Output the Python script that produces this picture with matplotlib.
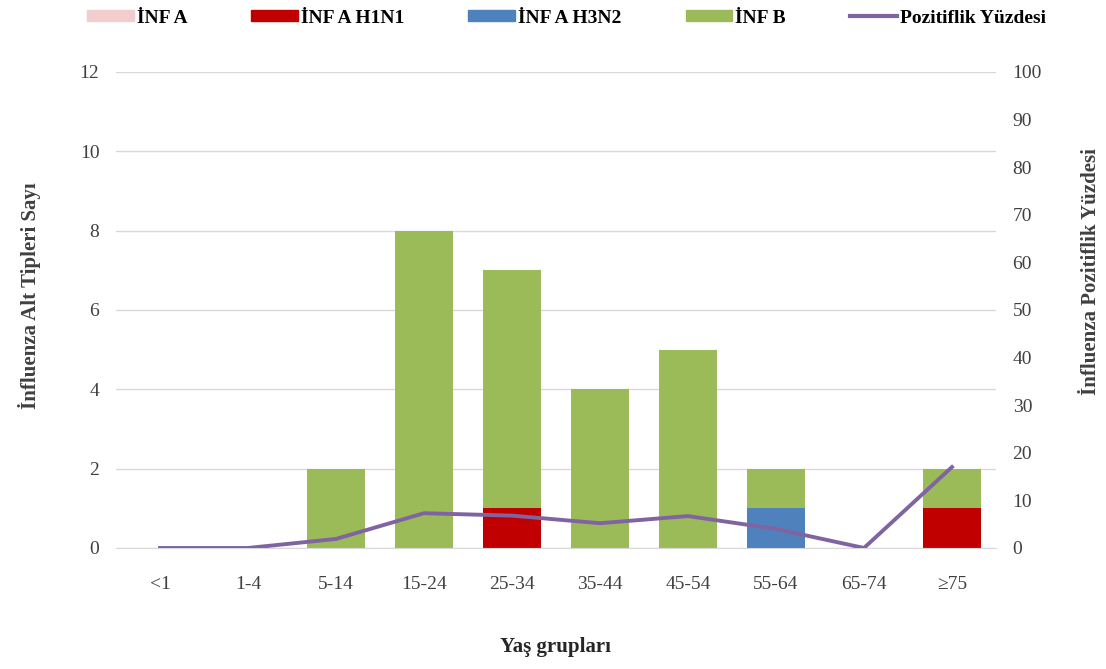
import numpy as np
import matplotlib.pyplot as plt
from matplotlib.patches import Patch
from matplotlib.lines import Line2D

# Veriler
yas_gruplari = ['<1', '1-4', '5-14', '15-24', '25-34', '35-44', '45-54', '55-64', '65-74', '≥75']
inf_a = [0, 0, 0, 0, 0, 0, 0, 0, 0, 0]
inf_a_h1n1 = [0, 0, 0, 0, 1, 0, 0, 0, 0, 1]
inf_a_h3n2 = [0, 0, 0, 0, 0, 0, 0, 1, 0, 0]
inf_b = [0, 0, 2, 8, 6, 4, 5, 1, 0, 1]
pozitiflik = [0, 0, 1.9, 7.3, 6.8, 5.2, 6.7, 4.0, 0, 17.0]

RENKLER = {'INF A': '#F2CDCD', 'H1N1': '#C00000', 'H3N2': '#4F81BD',
           'INF B': '#9BBB59', 'POZ': '#8064A2'}

plt.rcParams['font.family'] = ['Liberation Serif', 'DejaVu Serif']

fig = plt.figure(figsize=(11.06, 6.69), dpi=100)
ax = fig.add_axes([0.1049, 0.1809, 0.7956, 0.7115])
ax2 = ax.twinx()

x = np.arange(len(yas_gruplari))
w = 0.66
alt = np.zeros(len(x))
for vals, key in [(inf_a, 'INF A'), (inf_a_h1n1, 'H1N1'), (inf_a_h3n2, 'H3N2'), (inf_b, 'INF B')]:
    ax.bar(x, vals, w, bottom=alt, color=RENKLER[key], zorder=2)
    alt += np.array(vals)

ax2.plot(x, pozitiflik, color=RENKLER['POZ'], lw=2.8, zorder=3)

ax.set_xlim(-0.5, len(x) - 0.5)
ax.set_ylim(0, 12)
ax.set_yticks(range(0, 13, 2))
ax2.set_ylim(0, 100)
ax2.set_yticks(range(0, 101, 10))
ax.set_xticks(x)
ax.set_xticklabels(yas_gruplari)

ax.yaxis.grid(True, color='#D9D9D9', lw=1, zorder=0)
ax.set_axisbelow(True)
for a in (ax, ax2):
    for s in a.spines.values():
        s.set_visible(False)
    a.tick_params(length=0, labelsize=14, colors='#404040', pad=12)
ax.spines['bottom'].set_visible(True)
ax.spines['bottom'].set_color('#D9D9D9')
ax.tick_params(axis='x', pad=20)

ax.set_ylabel('İnfluenza Alt Tipleri Sayı', fontsize=15, fontweight='bold', color='#404040')
ax.yaxis.set_label_coords(-0.085, 0.53)
ax2.set_ylabel('İnfluenza Pozitiflik Yüzdesi', fontsize=15, fontweight='bold', color='#404040')
ax2.yaxis.set_label_coords(1.097, 0.58)
ax.set_xlabel('Yaş grupları', fontsize=15, fontweight='bold', color='#262626', labelpad=32)

handles = [Patch(color=RENKLER['INF A']), Patch(color=RENKLER['H1N1']),
           Patch(color=RENKLER['H3N2']), Patch(color=RENKLER['INF B']),
           Line2D([], [], color=RENKLER['POZ'], lw=3)]
labels = ['İNF A', 'İNF A H1N1', 'İNF A H3N2', 'İNF B', 'Pozitiflik Yüzdesi']
fig.legend(handles, labels, loc='center', bbox_to_anchor=(0.512, 0.973), ncol=5,
           frameon=False, prop={'weight': 'bold', 'size': 14}, handlelength=2.4,
           handleheight=0.5, columnspacing=3.3, handletextpad=0.15)

fig.savefig('out.png', dpi=100)
